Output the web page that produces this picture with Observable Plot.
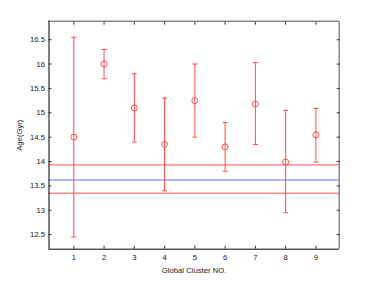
<!DOCTYPE html>
<html>
<head>
<meta charset="utf-8">
<script src="https://cdn.jsdelivr.net/npm/d3@7"></script>
<script src="https://cdn.jsdelivr.net/npm/@observablehq/plot@0.6"></script>
<style>
  html, body { margin: 0; padding: 0; background: #fff; }
  svg { display: block; }
</style>
</head>
<body>
<div id="chart"></div>
<script>
const clusters = [1, 2, 3, 4, 5, 6, 7, 8, 9];
const ages     = [14.5, 16.0, 15.1, 14.35, 15.25, 14.3, 15.18, 13.99, 14.55];
const upper    = [16.55, 16.3, 15.8, 15.3, 16.0, 14.8, 16.03, 15.05, 15.09];
const lower    = [12.45, 15.7, 14.4, 13.4, 14.5, 13.8, 14.35, 12.95, 13.99];
const refAges  = [13.93, 13.62, 13.35];
const refColors = ["#ff9c9c", "#9c9cff", "#ff4d4d"];
const xTicks = [1, 2, 3, 4, 5, 6, 7, 8, 9];
const yTicks = [12.5, 13, 13.5, 14, 14.5, 15, 15.5, 16, 16.5];
const xDomain = [0.18, 9.77];
const yDomain = [12.2, 16.88];

const data = clusters.map((c, i) => ({x: c, age: ages[i], hi: upper[i], lo: lower[i]}));
const refs = refAges.map((v, i) => ({v, color: refColors[i]}));

const cap = {draw(ctx) { ctx.moveTo(-2.5, 0); ctx.lineTo(2.5, 0); }};
const red = "#ff4a4a";
const fmt = d => String(d);

const plot = Plot.plot({
  width: 374,
  height: 281,
  marginLeft: 48.5,
  marginRight: 35.3,
  marginTop: 20.7,
  marginBottom: 32.3,
  style: {fontFamily: "'Liberation Sans', Arial, Helvetica, sans-serif", fontSize: "7.7px", color: "#222"},
  x: {domain: xDomain, ticks: xTicks},
  y: {domain: yDomain, ticks: yTicks},
  marks: [
    Plot.ruleY(refs, {y: "v", stroke: "color", strokeWidth: d => d.v > 13.5 ? 1.6 : 1}),
    Plot.ruleX(data, {x: "x", y1: "lo", y2: "hi", stroke: red, strokeWidth: 1}),
    Plot.dot(data, {x: "x", y: "hi", symbol: cap, stroke: red, strokeWidth: 1}),
    Plot.dot(data, {x: "x", y: "lo", symbol: cap, stroke: red, strokeWidth: 1}),
    Plot.dot(data, {x: "x", y: "age", r: 3, stroke: red, fill: "none", strokeWidth: 1}),
    Plot.ruleY([yDomain[1]], {stroke: "#888", strokeWidth: 1.5}),
    Plot.ruleX([xDomain[1]], {stroke: "#888", strokeWidth: 1.5}),
    Plot.ruleY([yDomain[0]], {stroke: "#000", strokeWidth: 1}),
    Plot.ruleX([xDomain[0]], {stroke: "#000", strokeWidth: 1}),
    Plot.axisX(xTicks, {anchor: "bottom", tickSize: -3, tickPadding: 8, tickFormat: fmt, label: "Global Cluster NO.", labelAnchor: "center", labelArrow: "none", labelOffset: 24, stroke: "#333"}),
    Plot.axisX(xTicks, {anchor: "top", tickSize: -3, tickFormat: () => "", label: null, stroke: "#333"}),
    Plot.axisY(yTicks, {anchor: "left", tickSize: -3, tickPadding: 7, tickFormat: fmt, label: "Age(Gyr)", labelAnchor: "center", labelArrow: "none", labelOffset: 32, stroke: "#333"}),
    Plot.axisY(yTicks, {anchor: "right", tickSize: -3, tickFormat: () => "", label: null, stroke: "#333"})
  ]
});
document.getElementById("chart").appendChild(plot);
</script>
</body>
</html>
